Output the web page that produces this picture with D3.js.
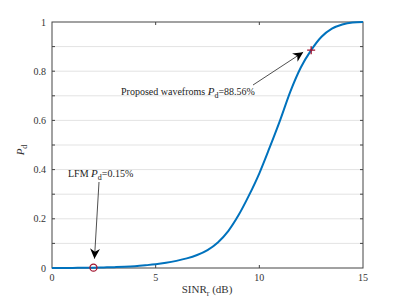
<!DOCTYPE html>
<html>
<head>
<meta charset="utf-8">
<title></title>
<script src="https://cdn.jsdelivr.net/npm/d3@7"></script>
<style>
  body { margin: 0; background: #fff; }
  text { font-family: "Liberation Serif", "Times New Roman", serif; }
</style>
</head>
<body>
<svg width="402" height="301"></svg>
<script>
// SINR_r (dB) and detection probability
var sinr = [0, 0.5, 1, 1.5, 2, 2.5, 3, 3.5, 4, 4.5, 5, 5.5, 6, 6.5, 7, 7.5,
            8, 8.5, 9, 9.5, 10, 10.5, 11, 11.5, 12, 12.5, 13, 13.5, 14, 14.5, 15];
var pd = [0, 0.0002, 0.0004, 0.0008, 0.0015, 0.0023, 0.0035, 0.0052, 0.0076, 0.011,
          0.015, 0.021, 0.029, 0.039, 0.053, 0.073, 0.104, 0.150, 0.215, 0.295,
          0.385, 0.490, 0.600, 0.718, 0.815, 0.8856, 0.940, 0.973, 0.990, 0.998, 1.0];
var xTicks = [0, 5, 10, 15];
var yTicks = [0, 0.2, 0.4, 0.6, 0.8, 1];
var yMinor = [0.1, 0.2, 0.3, 0.4, 0.5, 0.6, 0.7, 0.8, 0.9];
var lfm = { x: 2, y: 0.0015 };
var proposed = { x: 12.5, y: 0.8856 };

var svg = d3.select("svg");
var mLeft = 52, mRight = 363, mTop = 22, mBottom = 268;

var x = d3.scaleLinear().domain([0, 15]).range([mLeft, mRight]);
var y = d3.scaleLinear().domain([0, 1]).range([mBottom, mTop]);

// grid
svg.append("g").selectAll("line").data(yMinor).enter().append("line")
  .attr("x1", mLeft).attr("x2", mRight)
  .attr("y1", d => y(d)).attr("y2", d => y(d))
  .attr("stroke", "#e3e3e3").attr("stroke-width", 1);

// box
svg.append("rect").attr("x", mLeft).attr("y", mTop)
  .attr("width", mRight - mLeft).attr("height", mBottom - mTop)
  .attr("fill", "none").attr("stroke", "#444").attr("stroke-width", 1);

// ticks
var tk = svg.append("g").attr("stroke", "#444");
yMinor.forEach(function(v) {
  tk.append("line").attr("x1", mLeft).attr("x2", mLeft + 3).attr("y1", y(v)).attr("y2", y(v));
  tk.append("line").attr("x1", mRight - 3).attr("x2", mRight).attr("y1", y(v)).attr("y2", y(v));
});
xTicks.slice(1, -1).forEach(function(v) {
  tk.append("line").attr("x1", x(v)).attr("x2", x(v)).attr("y1", mBottom).attr("y2", mBottom - 3);
  tk.append("line").attr("x1", x(v)).attr("x2", x(v)).attr("y1", mTop).attr("y2", mTop + 3);
});

// tick labels
svg.append("g").selectAll("text").data(yTicks).enter().append("text")
  .attr("x", mLeft - 6).attr("y", d => y(d) + 3.5)
  .attr("text-anchor", "end").attr("font-size", 10).attr("fill", "#333")
  .text(d => d);
svg.append("g").selectAll("text").data(xTicks).enter().append("text")
  .attr("x", d => x(d)).attr("y", mBottom + 13)
  .attr("text-anchor", "middle").attr("font-size", 10).attr("fill", "#333")
  .text(d => d);

// axis titles
var xt = svg.append("text").attr("x", 207).attr("y", 293)
  .attr("text-anchor", "middle").attr("font-size", 11).attr("fill", "#333");
xt.append("tspan").text("SINR");
xt.append("tspan").attr("font-size", 8).attr("dy", 3).text("r");
xt.append("tspan").attr("dy", -3).text(" (dB)");

var yt = svg.append("text").attr("transform", "translate(24,150) rotate(-90)")
  .attr("text-anchor", "middle").attr("font-size", 11).attr("fill", "#333");
yt.append("tspan").attr("font-style", "italic").text("P");
yt.append("tspan").attr("font-size", 8).attr("dy", 3).text("d");

// curve
var line = d3.line().x((d, i) => x(sinr[i])).y(d => y(d)).curve(d3.curveMonotoneX);
svg.append("path").datum(pd).attr("d", line)
  .attr("fill", "none").attr("stroke", "#0072BD").attr("stroke-width", 2);

// markers
svg.append("circle").attr("cx", x(lfm.x)).attr("cy", y(lfm.y)).attr("r", 3.5)
  .attr("fill", "none").attr("stroke", "#A2142F").attr("stroke-width", 1.3);
var px = x(proposed.x), py = y(proposed.y);
svg.append("path").attr("d", "M" + (px - 4) + "," + py + "H" + (px + 4) + "M" + px + "," + (py - 4) + "V" + (py + 4))
  .attr("stroke", "#A2142F").attr("stroke-width", 1.3);

// annotations
svg.append("defs").append("marker").attr("id", "ah")
  .attr("viewBox", "0 0 10 10").attr("refX", 10).attr("refY", 5)
  .attr("markerWidth", 10).attr("markerHeight", 10).attr("markerUnits", "userSpaceOnUse")
  .attr("orient", "auto")
  .append("path").attr("d", "M0,0 L10,5 L0,10 L3,5 Z").attr("fill", "#000");

svg.append("line").attr("x1", 253).attr("y1", 85).attr("x2", px - 8).attr("y2", py + 2)
  .attr("stroke", "#222").attr("stroke-width", 0.8).attr("marker-end", "url(#ah)");
svg.append("line").attr("x1", 99).attr("y1", 182).attr("x2", x(lfm.x) + 1).attr("y2", y(lfm.y) - 9)
  .attr("stroke", "#222").attr("stroke-width", 0.8).attr("marker-end", "url(#ah)");

var a1 = svg.append("text").attr("x", 121).attr("y", 95).attr("font-size", 10).attr("fill", "#222");
a1.append("tspan").text("Proposed wavefroms  ");
a1.append("tspan").attr("font-style", "italic").attr("font-size", 11).text("P");
a1.append("tspan").attr("font-size", 8).attr("dy", 3).text("d");
a1.append("tspan").attr("dy", -3).text("=88.56%");

var a2 = svg.append("text").attr("x", 68).attr("y", 177).attr("font-size", 10).attr("fill", "#222");
a2.append("tspan").text("LFM  ");
a2.append("tspan").attr("font-style", "italic").attr("font-size", 11).text("P");
a2.append("tspan").attr("font-size", 8).attr("dy", 3).text("d");
a2.append("tspan").attr("dy", -3).text("=0.15%");
</script>
</body>
</html>
